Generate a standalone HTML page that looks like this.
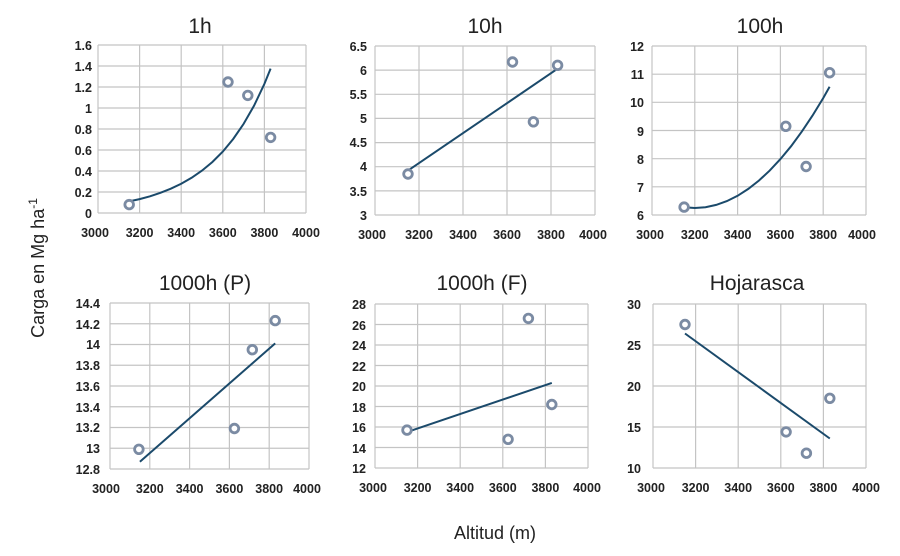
<!DOCTYPE html>
<html><head><meta charset="utf-8"><style>
body{margin:0;background:#fff}
svg{display:block}
text{font-family:"Liberation Sans",sans-serif;fill:#222}
.t{font-size:12.5px;font-weight:bold;fill:#333}
.h{font-size:21px;text-anchor:middle}
.g line{stroke:#c4c4c4;stroke-width:1.2}
.m{fill:#fff;stroke:#7b8ba3;stroke-width:2.8}
.l{fill:none;stroke:#1b4a6b;stroke-width:2}
.yl text{text-anchor:end}
.xl text{text-anchor:middle}
</style></head><body>
<svg width="900" height="556" viewBox="0 0 900 556">
<text class="h" x="200" y="33">1h</text>
<text class="h" x="485" y="33">10h</text>
<text class="h" x="760" y="33">100h</text>
<text class="h" x="205" y="290">1000h (P)</text>
<text class="h" x="482" y="290">1000h (F)</text>
<text class="h" x="757" y="290">Hojarasca</text>
<text x="44" y="268" font-size="18" text-anchor="middle" transform="rotate(-90 44 268)">Carga en Mg ha<tspan font-size="12" dy="-7">-1</tspan></text>
<text x="495" y="539" font-size="18" text-anchor="middle">Altitud (m)</text>

<!-- P1 -->
<g class="g">
<line x1="98" y1="45" x2="98" y2="213"/><line x1="139.6" y1="45" x2="139.6" y2="213"/><line x1="181.2" y1="45" x2="181.2" y2="213"/><line x1="222.8" y1="45" x2="222.8" y2="213"/><line x1="264.4" y1="45" x2="264.4" y2="213"/><line x1="306" y1="45" x2="306" y2="213"/>
<line x1="98" y1="45" x2="306" y2="45"/><line x1="98" y1="66" x2="306" y2="66"/><line x1="98" y1="87" x2="306" y2="87"/><line x1="98" y1="108" x2="306" y2="108"/><line x1="98" y1="129" x2="306" y2="129"/><line x1="98" y1="150" x2="306" y2="150"/><line x1="98" y1="171" x2="306" y2="171"/><line x1="98" y1="192" x2="306" y2="192"/><line x1="98" y1="213" x2="306" y2="213"/>
</g>
<g class="t yl"><text x="92" y="50">1.6</text><text x="92" y="71">1.4</text><text x="92" y="92">1.2</text><text x="92" y="113">1</text><text x="92" y="134">0.8</text><text x="92" y="155">0.6</text><text x="92" y="176">0.4</text><text x="92" y="197">0.2</text><text x="92" y="218">0</text></g>
<g class="t xl"><text x="95" y="237">3000</text><text x="139.6" y="237">3200</text><text x="181.2" y="237">3400</text><text x="222.8" y="237">3600</text><text x="264.4" y="237">3800</text><text x="306" y="237">4000</text></g>
<polyline class="l" points="129.2,201.4 139.6,199.1 150,196.3 160.4,192.8 170.8,188.7 181.2,183.8 191.6,177.8 202,170.6 212.4,162 222.8,151.6 233.2,139 243.6,123.9 254,105.8 264.4,83.9 270.6,68.6"/>
<circle class="m" cx="129.2" cy="204.6" r="4.3"/><circle class="m" cx="228" cy="82" r="4.3"/><circle class="m" cx="247.8" cy="95.4" r="4.3"/><circle class="m" cx="270.6" cy="137.4" r="4.3"/>

<!-- P2 -->
<g class="g">
<line x1="375" y1="46" x2="375" y2="215"/><line x1="419" y1="46" x2="419" y2="215"/><line x1="463" y1="46" x2="463" y2="215"/><line x1="507" y1="46" x2="507" y2="215"/><line x1="551" y1="46" x2="551" y2="215"/><line x1="595" y1="46" x2="595" y2="215"/>
<line x1="375" y1="46" x2="595" y2="46"/><line x1="375" y1="70.1" x2="595" y2="70.1"/><line x1="375" y1="94.3" x2="595" y2="94.3"/><line x1="375" y1="118.4" x2="595" y2="118.4"/><line x1="375" y1="142.6" x2="595" y2="142.6"/><line x1="375" y1="166.7" x2="595" y2="166.7"/><line x1="375" y1="190.9" x2="595" y2="190.9"/><line x1="375" y1="215" x2="595" y2="215"/>
</g>
<g class="t yl"><text x="367" y="51">6.5</text><text x="367" y="75">6</text><text x="367" y="99">5.5</text><text x="367" y="123">5</text><text x="367" y="147">4.5</text><text x="367" y="171">4</text><text x="367" y="196">3.5</text><text x="367" y="220">3</text></g>
<g class="t xl"><text x="372" y="239">3000</text><text x="419" y="239">3200</text><text x="463" y="239">3400</text><text x="507" y="239">3600</text><text x="551" y="239">3800</text><text x="593" y="239">4000</text></g>
<polyline class="l" points="408,170.6 557.6,68.7"/>
<circle class="m" cx="408" cy="174" r="4.3"/><circle class="m" cx="512.5" cy="62" r="4.3"/><circle class="m" cx="533.4" cy="121.8" r="4.3"/><circle class="m" cx="557.6" cy="65.3" r="4.3"/>

<!-- P3 -->
<g class="g">
<line x1="652" y1="46" x2="652" y2="215"/><line x1="694.8" y1="46" x2="694.8" y2="215"/><line x1="737.6" y1="46" x2="737.6" y2="215"/><line x1="780.4" y1="46" x2="780.4" y2="215"/><line x1="823.2" y1="46" x2="823.2" y2="215"/><line x1="866" y1="46" x2="866" y2="215"/>
<line x1="652" y1="46" x2="866" y2="46"/><line x1="652" y1="74.2" x2="866" y2="74.2"/><line x1="652" y1="102.3" x2="866" y2="102.3"/><line x1="652" y1="130.5" x2="866" y2="130.5"/><line x1="652" y1="158.7" x2="866" y2="158.7"/><line x1="652" y1="186.8" x2="866" y2="186.8"/><line x1="652" y1="215" x2="866" y2="215"/>
</g>
<g class="t yl"><text x="644" y="51">12</text><text x="644" y="79">11</text><text x="644" y="107">10</text><text x="644" y="136">9</text><text x="644" y="164">8</text><text x="644" y="192">7</text><text x="644" y="220">6</text></g>
<g class="t xl"><text x="650" y="239">3000</text><text x="694.8" y="239">3200</text><text x="737.6" y="239">3400</text><text x="780.4" y="239">3600</text><text x="823.2" y="239">3800</text><text x="862" y="239">4000</text></g>
<polyline class="l" points="684.1,207.2 694.8,208 705.5,207.2 716.2,204.9 726.9,201.1 737.6,195.8 748.3,188.9 759,180.5 769.7,170.6 780.4,159.1 791.1,146.2 801.8,131.6 812.5,115.6 823.2,98.1 829.6,86.8"/>
<circle class="m" cx="684.1" cy="207.1" r="4.3"/><circle class="m" cx="785.8" cy="126.3" r="4.3"/><circle class="m" cx="806.1" cy="166.5" r="4.3"/><circle class="m" cx="829.6" cy="72.7" r="4.3"/>

<!-- P4 -->
<g class="g">
<line x1="110" y1="303" x2="110" y2="469"/><line x1="149.8" y1="303" x2="149.8" y2="469"/><line x1="189.6" y1="303" x2="189.6" y2="469"/><line x1="229.4" y1="303" x2="229.4" y2="469"/><line x1="269.2" y1="303" x2="269.2" y2="469"/><line x1="309" y1="303" x2="309" y2="469"/>
<line x1="110" y1="303" x2="309" y2="303"/><line x1="110" y1="323.75" x2="309" y2="323.75"/><line x1="110" y1="344.5" x2="309" y2="344.5"/><line x1="110" y1="365.25" x2="309" y2="365.25"/><line x1="110" y1="386" x2="309" y2="386"/><line x1="110" y1="406.75" x2="309" y2="406.75"/><line x1="110" y1="427.5" x2="309" y2="427.5"/><line x1="110" y1="448.25" x2="309" y2="448.25"/><line x1="110" y1="469" x2="309" y2="469"/>
</g>
<g class="t yl"><text x="100" y="308">14.4</text><text x="100" y="329">14.2</text><text x="100" y="349">14</text><text x="100" y="370">13.8</text><text x="100" y="391">13.6</text><text x="100" y="412">13.4</text><text x="100" y="432">13.2</text><text x="100" y="453">13</text><text x="100" y="474">12.8</text></g>
<g class="t xl"><text x="106" y="493">3000</text><text x="149.8" y="493">3200</text><text x="189.6" y="493">3400</text><text x="229.4" y="493">3600</text><text x="269.2" y="493">3800</text><text x="307" y="493">4000</text></g>
<polyline class="l" points="139.9,461.7 275.2,343.4"/>
<circle class="m" cx="138.9" cy="449.3" r="4.3"/><circle class="m" cx="234.4" cy="428.5" r="4.3"/><circle class="m" cx="252.3" cy="349.7" r="4.3"/><circle class="m" cx="275.2" cy="320.6" r="4.3"/>

<!-- P5 -->
<g class="g">
<line x1="375" y1="304" x2="375" y2="468"/><line x1="417.6" y1="304" x2="417.6" y2="468"/><line x1="460.2" y1="304" x2="460.2" y2="468"/><line x1="502.8" y1="304" x2="502.8" y2="468"/><line x1="545.4" y1="304" x2="545.4" y2="468"/><line x1="588" y1="304" x2="588" y2="468"/>
<line x1="375" y1="304" x2="588" y2="304"/><line x1="375" y1="324.5" x2="588" y2="324.5"/><line x1="375" y1="345" x2="588" y2="345"/><line x1="375" y1="365.5" x2="588" y2="365.5"/><line x1="375" y1="386" x2="588" y2="386"/><line x1="375" y1="406.5" x2="588" y2="406.5"/><line x1="375" y1="427" x2="588" y2="427"/><line x1="375" y1="447.5" x2="588" y2="447.5"/><line x1="375" y1="468" x2="588" y2="468"/>
</g>
<g class="t yl"><text x="366" y="309">28</text><text x="366" y="330">26</text><text x="366" y="350">24</text><text x="366" y="371">22</text><text x="366" y="391">20</text><text x="366" y="412">18</text><text x="366" y="432">16</text><text x="366" y="453">14</text><text x="366" y="473">12</text></g>
<g class="t xl"><text x="373" y="492">3000</text><text x="417.6" y="492">3200</text><text x="460.2" y="492">3400</text><text x="502.8" y="492">3600</text><text x="545.4" y="492">3800</text><text x="587" y="492">4000</text></g>
<polyline class="l" points="407,432.1 551.8,382.9"/>
<circle class="m" cx="407" cy="430.1" r="4.3"/><circle class="m" cx="508.1" cy="439.3" r="4.3"/><circle class="m" cx="528.4" cy="318.4" r="4.3"/><circle class="m" cx="551.8" cy="404.5" r="4.3"/>

<!-- P6 -->
<g class="g">
<line x1="653" y1="304" x2="653" y2="468"/><line x1="695.6" y1="304" x2="695.6" y2="468"/><line x1="738.2" y1="304" x2="738.2" y2="468"/><line x1="780.8" y1="304" x2="780.8" y2="468"/><line x1="823.4" y1="304" x2="823.4" y2="468"/><line x1="866" y1="304" x2="866" y2="468"/>
<line x1="653" y1="304" x2="866" y2="304"/><line x1="653" y1="345" x2="866" y2="345"/><line x1="653" y1="386" x2="866" y2="386"/><line x1="653" y1="427" x2="866" y2="427"/><line x1="653" y1="468" x2="866" y2="468"/>
</g>
<g class="t yl"><text x="641" y="309">30</text><text x="641" y="350">25</text><text x="641" y="391">20</text><text x="641" y="432">15</text><text x="641" y="473">10</text></g>
<g class="t xl"><text x="651" y="492">3000</text><text x="695.6" y="492">3200</text><text x="738.2" y="492">3400</text><text x="780.8" y="492">3600</text><text x="823.4" y="492">3800</text><text x="866" y="492">4000</text></g>
<polyline class="l" points="685,333.5 829.8,438.5"/>
<circle class="m" cx="685" cy="324.5" r="4.3"/><circle class="m" cx="786.1" cy="431.9" r="4.3"/><circle class="m" cx="806.4" cy="453.2" r="4.3"/><circle class="m" cx="829.8" cy="398.3" r="4.3"/>
</svg>
</body></html>
